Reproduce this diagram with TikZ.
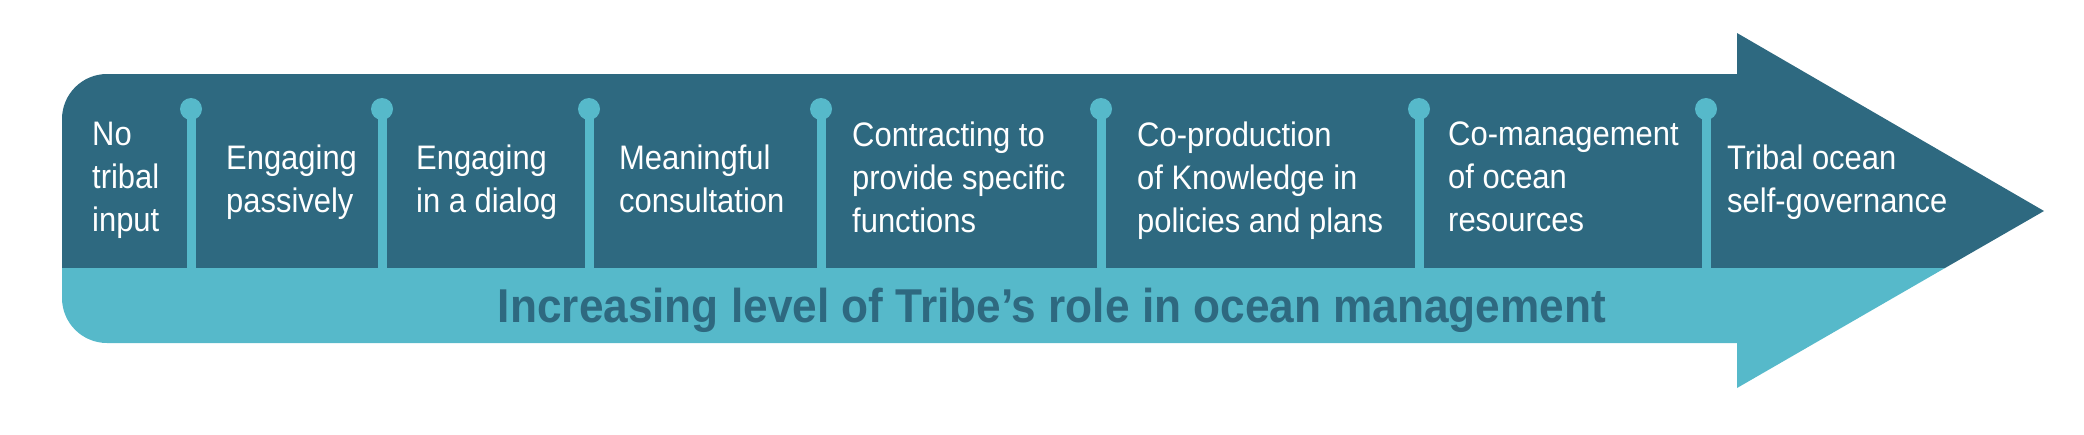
\documentclass[tikz,border=0pt]{standalone}
\usepackage{fontspec}
\usepackage{tikz}
\usetikzlibrary{calc,positioning}
\newfontfamily\stagefont[FakeStretch=0.91]{Liberation Sans}
\newfontfamily\bandfont[FakeStretch=0.93]{Liberation Sans}
\definecolor{tealdark}{RGB}{46,105,128}
\definecolor{teallight}{RGB}{86,185,202}
\tikzset{
  stage/.style={anchor=north west, align=left, text=white, inner sep=0pt,
    font=\stagefont\fontsize{34}{43}\selectfont,
    execute at begin node={\rule{0pt}{26pt}}},
  bandtext/.style={anchor=base, text=tealdark, inner sep=0pt,
    font=\bandfont\bfseries\fontsize{47.5}{52}\selectfont},
  pinline/.style={draw=teallight, line width=9pt},
  pinhead/.style={fill=teallight}
}
\begin{document}
\begin{tikzpicture}[x=1pt, y=-1pt]
  \useasboundingbox (0,0) rectangle (2084,434);
  % arrow: dark upper part, light lower band
  \fill[tealdark] (62,268) -- (62,119) arc[start angle=180, end angle=270, radius=45]
    -- (1737,74) -- (1737,33) -- (2044,211) -- (1945,268) -- cycle;
  \fill[teallight] (62,268) -- (1945,268) -- (1737,388) -- (1737,343)
    -- (107,343) arc[start angle=90, end angle=180, radius=45] -- cycle;

  % pins between the stages
  \foreach \x [count=\i] in {191,382,589,821,1101,1419,1706} {
    \coordinate (pin\i) at (\x,109);
    \draw[pinline] (\x,268) -- (pin\i);
    \fill[pinhead] (pin\i) circle[radius=11];
  }

  \node[stage] (none) at (92,122) {No\\tribal\\input};
  \node[stage] (passive) at (226,145) {Engaging\\passively};
  \node[stage] (dialog) at (416,145) {Engaging\\in a dialog};
  \node[stage] (consult) at (619,145) {Meaningful\\consultation};
  \node[stage] (contract) at (852,122) {Contracting to\\provide specific\\functions};
  \node[stage] (coprod) at (1137,122) {Co-production\\of Knowledge in\\policies and plans};
  \node[stage] (comanage) at (1448,122) {Co-management\\of ocean\\resources};
  \node[stage] (selfgov) at (1727,145) {Tribal ocean\\self-governance};

  \node[bandtext] (trend) at (1052,322) {Increasing level of Tribe’s role in ocean management};
\end{tikzpicture}
\end{document}
